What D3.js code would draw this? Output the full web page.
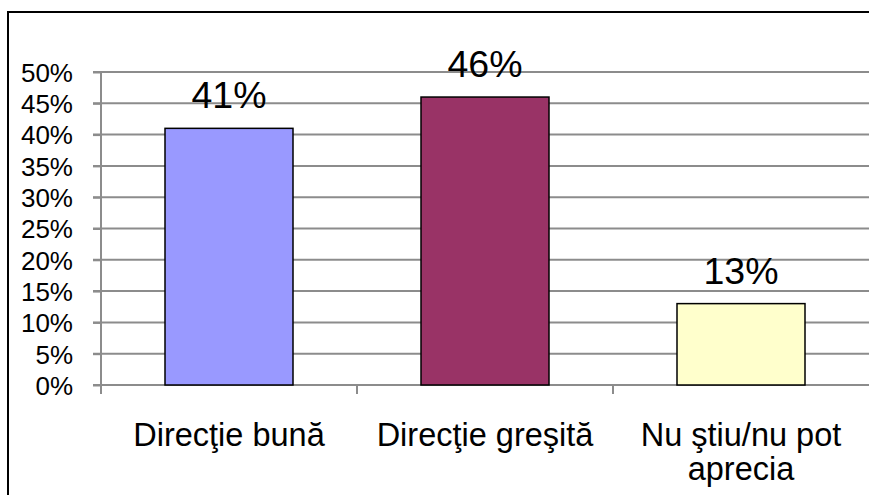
<!DOCTYPE html>
<html>
<head>
<meta charset="utf-8">
<script src="https://cdn.jsdelivr.net/npm/d3@7"></script>
<style>
  body { margin: 0; background: #fff; }
  text { font-family: "Liberation Sans", Arial, sans-serif; fill: #000; }
</style>
</head>
<body>
<script>
// donnees du graphique
var categories = ["Direcţie bună", "Direcţie greşită", "Nu ştiu/nu pot aprecia"];
var valeurs = [0.41, 0.46, 0.13];
var couleurs = ["#9999FF", "#993366", "#FFFFCC"];
var yTicks = [0, 0.05, 0.10, 0.15, 0.20, 0.25, 0.30, 0.35, 0.40, 0.45, 0.50];

var w = 869;
var h = 495;
var gauche = 101, droite = 869, haut = 72, bas = 385;
var gris = "#8c8c8c";

var svg = d3.select("body")
	.append("svg")
	.attr("width", w)
	.attr("height", h);

// cadre exterieur (ouvert a droite et en bas)
svg.append("path")
	.attr("d", "M8," + h + "V12H" + w)
	.attr("fill", "none")
	.attr("stroke", "#000")
	.attr("stroke-width", 2);

var x = d3.scaleBand()
	.domain(categories)
	.range([gauche, droite])
	.padding(0);

var y = d3.scaleLinear()
	.domain([0, 0.5])
	.range([bas, haut]);

// lignes de grille
svg.append("g")
	.selectAll("line")
	.data(yTicks)
	.enter()
	.append("line")
	.attr("x1", gauche - 8)
	.attr("x2", droite)
	.attr("y1", function(d) { return y(d); })
	.attr("y2", function(d) { return y(d); })
	.attr("stroke", gris)
	.attr("stroke-width", 2);

// axe Y : etiquettes
var yAxis = d3.axisLeft(y)
	.tickValues(yTicks)
	.tickSize(8)
	.tickPadding(20)
	.tickFormat(d3.format(".0%"));

var gy = svg.append("g")
	.attr("transform", "translate(" + gauche + ",0)")
	.call(yAxis);
gy.select(".domain").remove();
gy.selectAll(".tick line").attr("stroke", gris).attr("stroke-width", 2);
gy.selectAll(".tick text")
	.style("font-family", "'Liberation Sans', Arial, sans-serif")
	.style("font-size", "26px")
	.attr("dy", "0.36em");

// axe Y : ligne verticale
svg.append("line")
	.attr("x1", gauche).attr("x2", gauche)
	.attr("y1", y(0.5)).attr("y2", bas + 9)
	.attr("stroke", gris)
	.attr("stroke-width", 2);

// axe X : graduations entre categories
var bornes = categories.map(function(c) { return x(c); });
svg.append("g")
	.selectAll("line")
	.data(bornes)
	.enter()
	.append("line")
	.attr("x1", function(d) { return d; })
	.attr("x2", function(d) { return d; })
	.attr("y1", bas)
	.attr("y2", bas + 9)
	.attr("stroke", gris)
	.attr("stroke-width", 2);

// barres
var bw = x.bandwidth();
svg.selectAll(".barre")
	.data(valeurs)
	.enter()
	.append("rect")
	.attr("class", "barre")
	.attr("x", function(d, i) { return x(categories[i]) + bw * 0.25; })
	.attr("width", bw * 0.5)
	.attr("y", function(d) { return y(d); })
	.attr("height", function(d) { return bas - y(d); })
	.style("fill", function(d, i) { return couleurs[i]; })
	.attr("stroke", "#000")
	.attr("stroke-width", 1.5);

// etiquettes de valeur
svg.selectAll(".valeur")
	.data(valeurs)
	.enter()
	.append("text")
	.attr("class", "valeur")
	.attr("x", function(d, i) { return x(categories[i]) + bw / 2; })
	.attr("y", function(d) { return y(d) - 20; })
	.attr("text-anchor", "middle")
	.style("font-size", "37.5px")
	.text(function(d) { return Math.round(d * 100) + "%"; });

// etiquettes des categories (avec retour a la ligne)
categories.forEach(function(c) {
	var t = svg.append("text")
		.attr("x", x(c) + bw / 2)
		.attr("y", 446)
		.attr("text-anchor", "middle")
		.style("font-size", "32.5px");
	var mots = c.split(" ");
	var ligne = [];
	var ts = t.append("tspan").attr("x", x(c) + bw / 2);
	mots.forEach(function(m) {
		ligne.push(m);
		ts.text(ligne.join(" "));
		if (ts.node().getComputedTextLength() > bw - 20 && ligne.length > 1) {
			ligne.pop();
			ts.text(ligne.join(" "));
			ligne = [m];
			ts = t.append("tspan")
				.attr("x", x(c) + bw / 2)
				.attr("dy", 34)
				.text(m);
		}
	});
});
</script>
</body>
</html>
